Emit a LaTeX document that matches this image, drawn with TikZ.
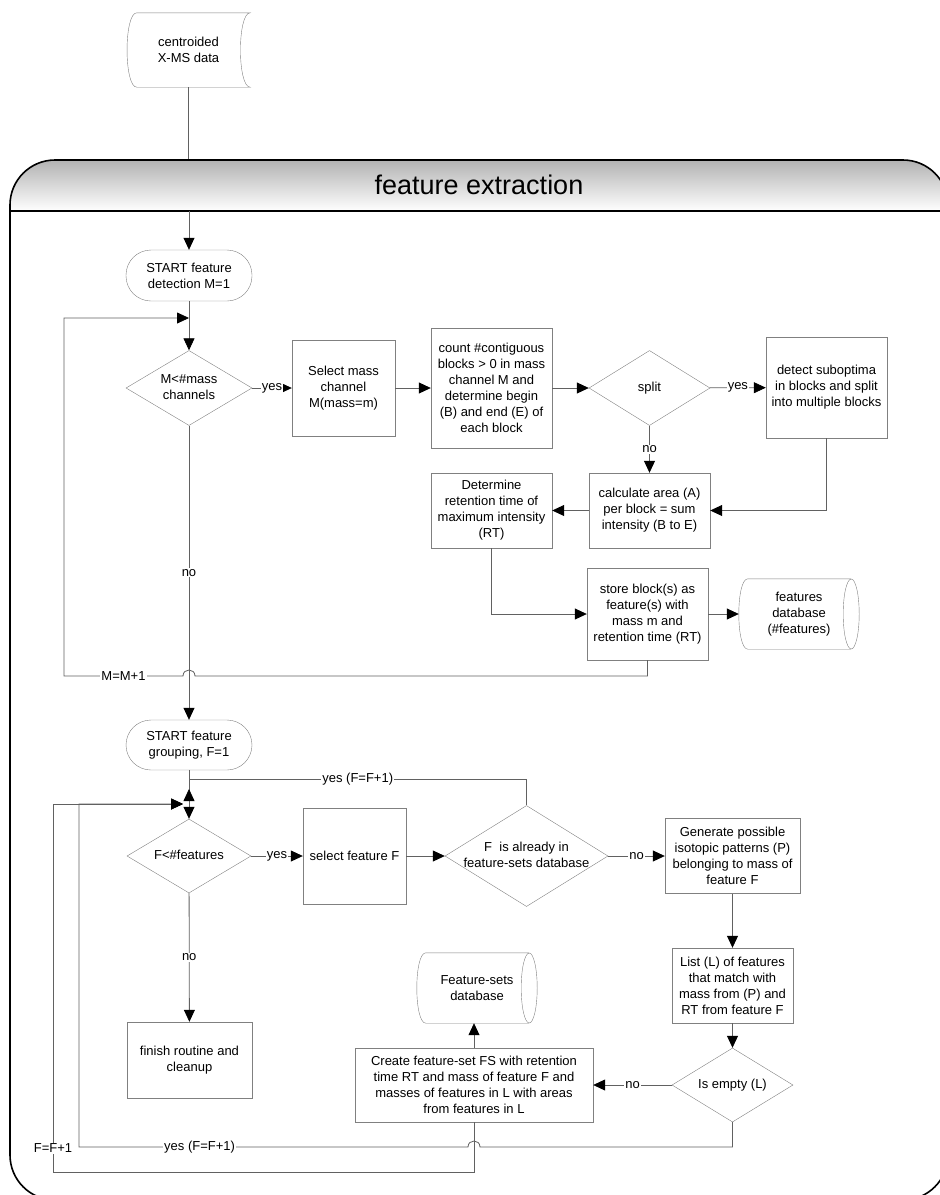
\documentclass[tikz,border=0pt]{standalone}
\usepackage{fontspec}
\setmainfont{Liberation Sans}
\usetikzlibrary{shapes.geometric,arrows.meta}
\definecolor{linegray}{gray}{0.38}
\definecolor{boxgray}{gray}{0.5}
\newcommand{\dtxt}[1]{\makebox[0pt]{\begin{tabular}{@{}c@{}}#1\end{tabular}}}

\begin{document}
\begin{tikzpicture}[x=1pt,y=-1pt,font=\fontsize{13}{16}\selectfont]
  \tikzstyle{box}=[draw=boxgray,rectangle,align=center,inner sep=1pt]
  \tikzstyle{term}=[box,rounded corners=25pt]
  \tikzstyle{dec}=[draw=boxgray,diamond,inner sep=0pt]
  \tikzstyle{dbtxt}=[align=center,inner sep=0pt]
  \tikzstyle{conn}=[draw=linegray,line width=0.8pt]
  \tikzstyle{arr}=[conn,-{Triangle[length=12pt,width=11pt,color=black]}]
  \tikzstyle{lbl}=[fill=white,inner sep=1pt]

  \useasboundingbox (0,0) rectangle (940,1195);
  \clip (0,0) rectangle (940,1195);

  % swimlane
  \begin{scope}
    \clip[rounded corners=45pt] (10,160) rectangle (948,1200);
    \shade[top color=black!30,bottom color=white] (10,160) rectangle (948,211);
  \end{scope}
  \node[draw,line width=1.6pt,rounded corners=45pt,minimum width=938,minimum height=1040,inner sep=0pt] (fe) at (479,680) {};
  \draw[line width=1.6pt] (fe.west |- 0,211) -- (fe.east |- 0,211);
  \node[font=\fontsize{27}{32}\selectfont] (title) at (479,185) {feature extraction};

  % data
  \node[dbtxt,minimum width=123,minimum height=74] (src) at (188.5,50) {centroided\\X-MS data};
  \draw[boxgray] ([xshift=10pt]src.north west) -- (src.north east)
    .. controls ([xshift=-13pt]src.north east) and ([xshift=-13pt]src.south east) .. (src.south east)
    -- ([xshift=10pt]src.south west)
    .. controls ([xshift=-3pt]src.south west) and ([xshift=-3pt]src.north west) .. ([xshift=10pt]src.north west);

  \node[term,minimum width=126,minimum height=51] (start1) at (189,275.5) {START feature\\detection M=1};
  \node[term,minimum width=126,minimum height=50] (start2) at (189,745) {START feature\\grouping, F=1};

  \foreach \name/\x/\y/\w/\h/\txt in {
      dec1/189/388/126/75/{M<\#mass\\channels},
      split/649.5/388/121/75/{split},
      dec2/189/856/124/74/{F<\#features},
      dec3/526.5/856/163/101/{F\ \ is already in\\feature-sets database},
      dec4/732.5/1085/121/74/{Is empty (L)}}
    \node[dec,minimum width=\w,minimum height=\h] (\name) at (\x,\y) {\dtxt{\txt}};

  \foreach \name/\x/\y/\w/\h/\txt in {
      sel/343.5/388/103/96/{Select mass\\channel\\M(mass=m)},
      count/491.5/388/121/120/{count \#contiguous\\blocks > 0 in mass\\channel M and\\determine begin\\(B) and end (E) of\\each block},
      detect/826.5/387.5/121/101/{detect suboptima\\in blocks and split\\into multiple blocks},
      calc/649.5/510.5/121/75/{calculate area (A)\\per block = sum\\intensity (B to E)},
      rt/491.5/510.5/121/75/{Determine\\retention time of\\maximum intensity\\(RT)},
      store/647.5/614/121/92/{store block(s) as\\feature(s) with\\mass m and\\retention time (RT)},
      selF/354.5/856/103/96/{select feature F},
      gen/732.5/856/135/75/{Generate possible\\isotopic patterns (P)\\belonging to mass of\\feature F},
      list/732.5/985.5/121/75/{List (L) of features\\that match with\\mass from (P) and\\RT from feature F},
      create/474/1085/238/74/{Create feature-set FS with retention\\time RT and mass of feature F and\\masses of features in L with areas\\from features in L},
      finish/189.5/1060/125/76/{finish routine and\\cleanup}}
    \node[box,minimum width=\w,minimum height=\h] (\name) at (\x,\y) {\txt};

  % databases
  \foreach \name/\x/\y/\txt in {fdb/799/614/{features\\database\\(\#features)}, fsdb/477/988/{Feature-sets\\database}} {
    \node[dbtxt,minimum width=120,minimum height=70] (\name) at (\x,\y) {\txt};
    \draw[boxgray] ([xshift=-8pt]\name.north east) -- ([xshift=9pt]\name.north west)
      .. controls ([xshift=-3pt]\name.north west) and ([xshift=-3pt]\name.south west) .. ([xshift=9pt]\name.south west)
      -- ([xshift=-8pt]\name.south east);
    \draw[boxgray] ([xshift=-8pt]\name.east) ellipse [x radius=8pt,y radius=35pt];
  }

  \coordinate (hdr) at (189,211);
  \coordinate (j1) at (189,318);
  \coordinate (jn) at (183,804);
  \coordinate (ju) at (189,789);

  \draw[conn] (src) -- (src.south |- fe.north);
  \draw[arr] (hdr) -- (start1);

  \foreach \from/\to in {start1/dec1, sel/count, count/split, calc/rt, store/fdb, start2/dec2, selF/dec3, gen/list, list/dec4}
    \draw[arr] (\from) -- (\to);

  \foreach \from/\to/\lab in {dec1/sel/yes, split/detect/yes, split/calc/no, dec1/start2/no, dec2/selF/yes, dec3/gen/no, dec2/finish/no, dec4/create/no}
    \draw[arr] (\from) -- node[lbl] (lab-\from-\to) {\lab} (\to);

  \foreach \from/\to in {detect/calc, rt/store}
    \draw[arr] (\from) |- (\to);

  \draw[arr] (create) -- (create |- fsdb.south);

  % loops back
  \draw[arr] (store) |- (195,676) .. controls (195,668) and (183,668) .. (183,676)
    -- node[lbl] (lab-mm) {M=M+1} (64,676) |- (j1);
  \draw[arr] (dec3) |- node[lbl,pos=0.75] (lab-yes1) {yes (F=F+1)} (189,779) -- (189,806) -- (ju);
  \draw[arr] (dec4) |- (480,1147) .. controls (480,1139) and (468,1139) .. (468,1147)
    -- node[lbl,pos=0.69] (lab-yes2) {yes (F=F+1)} (79,1147) |- (jn);
  \draw[arr] (create) |- (53,1172) -- node[lbl,pos=0.065] (lab-ff) {F=F+1} (53,804) -- (jn);
\end{tikzpicture}
\end{document}
